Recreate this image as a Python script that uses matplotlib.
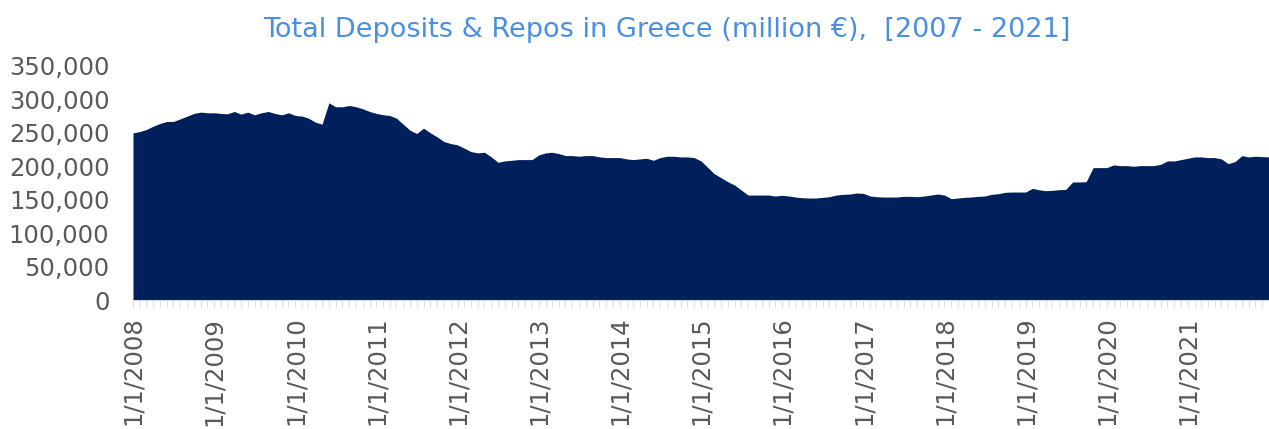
import pandas as pd
import matplotlib
matplotlib.use('Agg')
import matplotlib.pyplot as plt
import matplotlib.dates as mdates
from matplotlib.ticker import FuncFormatter

# Monthly totals, thousand million EUR
y2008 = [250, 252, 255, 260, 264, 267, 267, 271, 275, 279, 281, 280]
y2009 = [280, 279, 278.5, 282, 278, 281, 277, 280, 282, 279, 277, 280]
y2010 = [276, 275, 272, 266, 263, 295, 289, 289, 291, 289, 286, 282]
y2011 = [279, 277, 276, 272, 263, 254, 249, 257, 250, 244, 237, 234]
y2012 = [232, 227, 222, 220, 221, 214, 206, 208, 209, 210, 210, 210]
y2013 = [217, 220, 221, 219, 216, 216, 215, 216, 216, 214, 213, 213]
y2014 = [213, 211, 210, 211, 212, 209, 213, 215, 215, 214, 214, 213]
y2015 = [208, 198, 189, 183, 177, 172, 164.5, 157, 157, 157, 157, 155.5]
y2016 = [156.5, 155.5, 154, 153, 152.5, 152.5, 153.5, 154.5, 157, 158, 158.5, 160]
y2017 = [159.5, 155.5, 154.5, 154, 154, 154, 155, 155, 154.5, 155.5, 157, 158.5]
y2018 = [157, 151.5, 152.5, 153.5, 154, 155, 155.5, 158, 159, 161, 161.5, 161.5]
y2019 = [161.5, 167, 165, 163.5, 164, 165, 165.5, 176.5, 176.5, 177, 198, 198]
y2020 = [198, 202, 201, 201, 200, 201, 201, 201, 203, 208, 208, 210]
y2021 = [212, 214, 214, 213, 213, 211, 204, 207, 216, 214, 215, 214.5]
y2022 = [214]

values = [v * 1000 for v in (y2008 + y2009 + y2010 + y2011 + y2012 + y2013 + y2014
                             + y2015 + y2016 + y2017 + y2018 + y2019 + y2020 + y2021 + y2022)]
dates = pd.date_range('2008-01-01', periods=len(values), freq='MS')
year_ticks = pd.date_range('2008-01-01', '2021-01-01', freq='YS')

title = 'Total Deposits & Repos in Greece (million €),  [2007 - 2021]'
fill_color = '#00205B'
text_grey = '#595959'

fig = plt.figure(figsize=(12.69, 4.29), dpi=100)
ax = fig.add_axes([133 / 1269, 1 - 300 / 429, 1 - 133 / 1269, 234 / 429])

ax.fill_between(dates, values, 0, color=fill_color, linewidth=0)

ax.set_ylim(0, 350000)
ax.set_yticks(range(0, 350001, 50000))
ax.yaxis.set_major_formatter(FuncFormatter(lambda v, p: f'{v:,.0f}'))
ax.set_xlim(dates[0], dates[-1])

ax.set_xticks(year_ticks)
ax.set_xticklabels([f'{d.month}/{d.day}/{d.year}' for d in year_ticks])
ax.xaxis.set_minor_locator(mdates.MonthLocator())

ax.tick_params(axis='y', length=0, pad=17, labelsize=17.5, labelcolor=text_grey)
ax.tick_params(axis='x', which='major', length=5, color='#d9d9d9', pad=7,
               labelsize=17.5, labelcolor=text_grey, labelrotation=90)
ax.tick_params(axis='x', which='minor', length=5, color='#d9d9d9')

for s in ['top', 'right', 'left']:
    ax.spines[s].set_visible(False)
ax.spines['bottom'].set_color('#d9d9d9')

fig.text(667 / 1269, 1 - 30 / 429, title, ha='center', va='center',
         fontsize=19.5, color='#4A90E2')

fig.savefig('out.png', dpi=100)
